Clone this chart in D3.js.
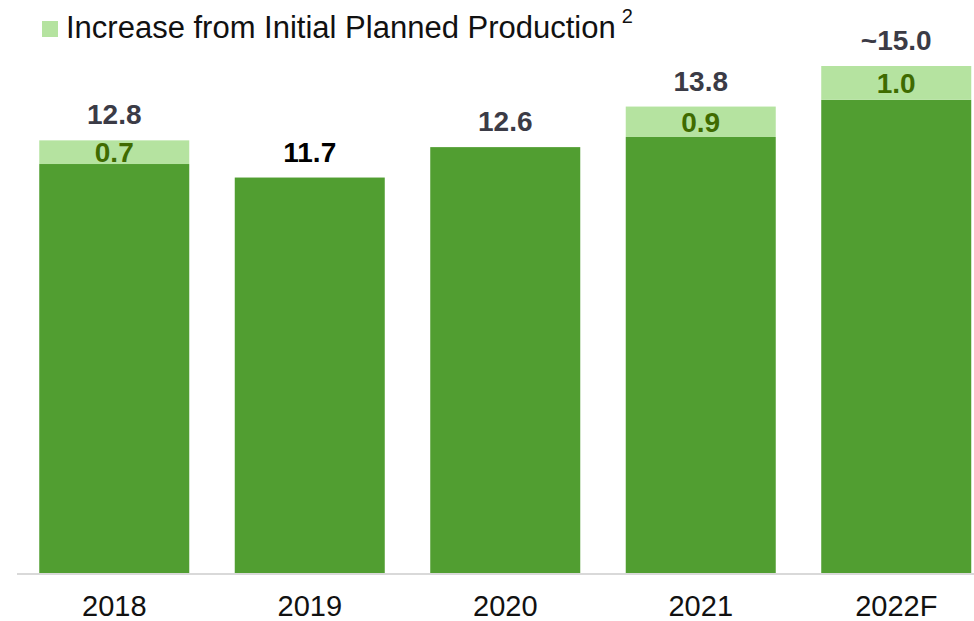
<!DOCTYPE html>
<html><head><meta charset="utf-8">
<script src="https://cdn.jsdelivr.net/npm/d3@7"></script>
<style>body{margin:0;background:#fff}svg{display:block}</style>
</head><body>
<svg id="c" width="974" height="621"></svg>
<script>
const categories = ["2018","2019","2020","2021","2022F"];
const baseValues = [12.1, 11.7, 12.6, 12.9, 14.0];
const increaseValues = [0.7, 0, 0, 0.9, 1.0];
const totalLabels = ["12.8","11.7","12.6","13.8","~15.0"];
const increaseLabels = ["0.7","","","0.9","1.0"];
const legendLabel = "Increase from Initial Planned Production";

const svg = d3.select("#c");
const font = "'Liberation Sans', Arial, sans-serif";
const dark = "#519e31", light = "#b5e3a0";

const x = d3.scaleBand().domain(categories).range([16.5, 994]).paddingInner(0.2327).paddingOuter(0.1164);
const y = d3.scaleLinear().domain([0, 15]).range([573, 66]);

const data = categories.map((c, i) => ({c, base: baseValues[i], inc: increaseValues[i], total: baseValues[i] + increaseValues[i], tl: totalLabels[i], il: increaseLabels[i]}));

// base bars
svg.selectAll("rect.base").data(data).join("rect").attr("class","base")
  .attr("x", d => x(d.c)).attr("width", x.bandwidth())
  .attr("y", d => y(d.base)).attr("height", d => y(0) - y(d.base))
  .attr("fill", dark);
// increase bars
svg.selectAll("rect.inc").data(data.filter(d => d.inc > 0)).join("rect").attr("class","inc")
  .attr("x", d => x(d.c)).attr("width", x.bandwidth())
  .attr("y", d => y(d.total)).attr("height", d => y(d.base) - y(d.total))
  .attr("fill", light);

// axis
const xAxis = d3.axisBottom(x).tickSize(0).tickPadding(0);
const ax = svg.append("g").attr("transform", `translate(0,${y(0)})`).call(xAxis);
ax.select(".domain").remove();
ax.append("line").attr("x1", 17).attr("x2", 974).attr("y1", 1).attr("y2", 1).attr("stroke", "#d9d9d9").attr("stroke-width", 2);
ax.selectAll(".tick text").attr("dy", null).attr("y", 43).attr("font-family", font).attr("font-size", 29).attr("fill", "#111").attr("text-anchor","middle");

// total labels
svg.selectAll("text.tot").data(data).join("text").attr("class","tot")
  .attr("x", d => x(d.c) + x.bandwidth()/2).attr("y", d => y(d.total) - 16)
  .attr("text-anchor","middle").attr("font-family", font).attr("font-weight","bold").attr("font-size", 28)
  .attr("fill", d => d.inc > 0 || d.c === "2020" ? "#3b3b46" : "#000")
  .text(d => d.tl);
// increase labels
svg.selectAll("text.il").data(data.filter(d => d.inc > 0)).join("text").attr("class","il")
  .attr("x", d => x(d.c) + x.bandwidth()/2).attr("y", d => (y(d.total) + y(d.base))/2 + 10)
  .attr("text-anchor","middle").attr("font-family", font).attr("font-weight","bold").attr("font-size", 28)
  .attr("fill", "#3f6b00").text(d => d.il);

// legend
svg.append("rect").attr("x", 42).attr("y", 21).attr("width", 16).attr("height", 16).attr("fill", light);
const lt = svg.append("text").attr("x", 66).attr("y", 38).attr("font-family", font).attr("font-size", 31).attr("fill", "#111");
lt.append("tspan").text(legendLabel);
lt.append("tspan").attr("dy", -15).attr("dx", 6).attr("font-size", 20).text("2");
</script>
</body></html>
